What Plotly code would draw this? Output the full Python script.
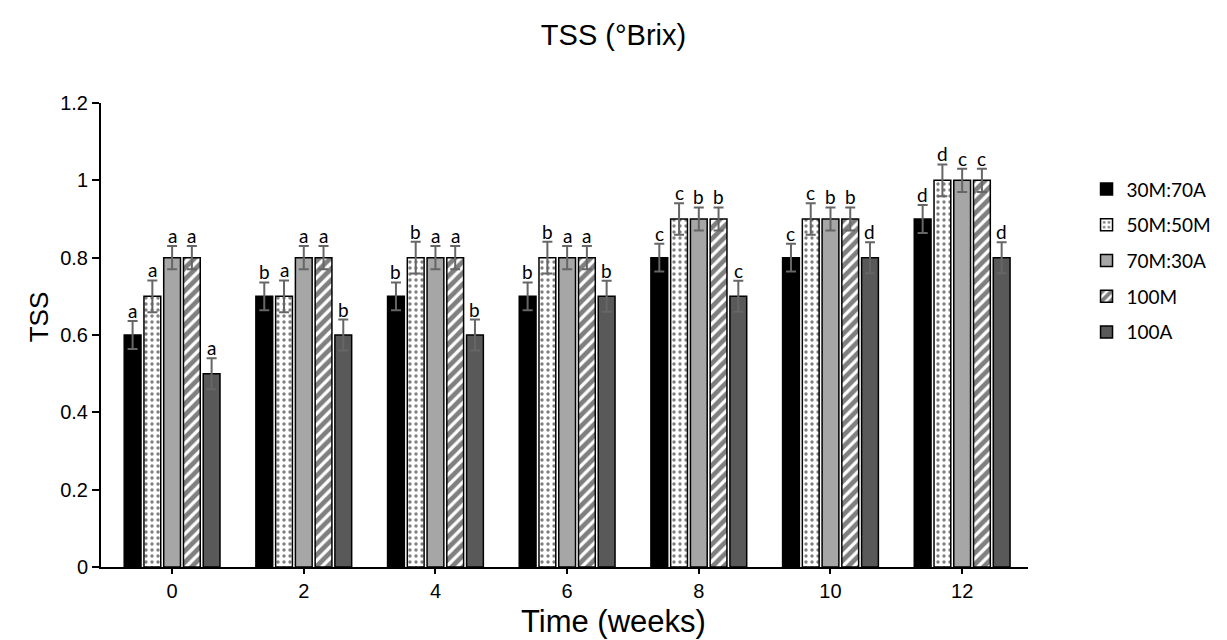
import plotly.graph_objects as go

weeks = ["0", "2", "4", "6", "8", "10", "12"]
series_names = ["30M:70A", "50M:50M", "70M:30A", "100M", "100A"]

tss_30M70A = [0.6, 0.7, 0.7, 0.7, 0.8, 0.8, 0.9]
tss_50M50M = [0.7, 0.7, 0.8, 0.8, 0.9, 0.9, 1.0]
tss_70M30A = [0.8, 0.8, 0.8, 0.8, 0.9, 0.9, 1.0]
tss_100M = [0.8, 0.8, 0.8, 0.8, 0.9, 0.9, 1.0]
tss_100A = [0.5, 0.6, 0.6, 0.7, 0.7, 0.8, 0.8]

err_30M70A = [0.036] * 7
err_50M50M = [0.041] * 7
err_70M30A = [0.03] * 7
err_100M = [0.03] * 7
err_100A = [0.04] * 7

letters_30M70A = ["a", "b", "b", "b", "c", "c", "d"]
letters_50M50M = ["a", "a", "b", "b", "c", "c", "d"]
letters_70M30A = ["a", "a", "a", "a", "b", "b", "c"]
letters_100M = ["a", "a", "a", "a", "b", "b", "c"]
letters_100A = ["a", "b", "b", "b", "c", "d", "d"]

values = [tss_30M70A, tss_50M50M, tss_70M30A, tss_100M, tss_100A]
errors = [err_30M70A, err_50M50M, err_70M30A, err_100M, err_100A]
letters = [letters_30M70A, letters_50M50M, letters_70M30A, letters_100M, letters_100A]

styles = [
    dict(color="#000000"),
    dict(color="#ffffff", pattern=dict(shape=".", fgcolor="#000000", bgcolor="#ffffff", size=6, solidity=0.25)),
    dict(color="#a6a6a6"),
    dict(color="#ffffff", pattern=dict(shape="/", fgcolor="#000000", bgcolor="#ffffff", size=8, solidity=0.6)),
    dict(color="#595959"),
]

bargap = 0.25
bargroupgap = 0.15
n = len(series_names)
slot = (1 - bargap) / n
xidx = list(range(len(weeks)))

fig = go.Figure()
for i, name in enumerate(series_names):
    st = styles[i]
    marker = dict(color=st["color"], line=dict(color="#000000", width=1.5))
    if "pattern" in st:
        marker["pattern"] = st["pattern"]
    fig.add_trace(go.Bar(
        x=xidx, y=values[i], name=name, marker=marker,
        error_y=dict(type="data", array=errors[i], color="#666666", thickness=2, width=5),
        legendgroup=name,
    ))
    off = -(1 - bargap) / 2 + slot * (i + 0.5)
    for j in xidx:
        fig.add_annotation(
            x=j + off, y=values[i][j] + errors[i][j], text=letters[i][j],
            showarrow=False, yanchor="bottom", yshift=-3,
            font=dict(family="Lato, Open Sans, sans-serif", size=19, color="#000000"),
        )

# axis titles (placed as in the reference, centred on the figure)
fig.add_annotation(text="Time (weeks)", xref="paper", yref="paper", x=0.553, y=-0.1185,
                   xanchor="center", yanchor="middle", showarrow=False,
                   font=dict(family="Liberation Sans, Arial, sans-serif", size=31, color="#000000"))
fig.add_annotation(text="TSS", xref="paper", yref="paper", x=-0.066, y=0.54, textangle=-90,
                   xanchor="center", yanchor="middle", showarrow=False,
                   font=dict(family="Liberation Sans, Arial, sans-serif", size=26, color="#000000"))

# small end tick at the right end of the x axis
fig.add_shape(type="line", xref="paper", yref="y", x0=1, x1=1, y0=0, y1=-5,
              ysizemode="pixel", yanchor=0, line=dict(color="#000000", width=2))

fig.update_layout(
    width=1227, height=640,
    paper_bgcolor="white", plot_bgcolor="white",
    margin=dict(l=101, r=198, t=103, b=73),
    barmode="group", bargap=bargap, bargroupgap=bargroupgap,
    title=dict(text="TSS (°Brix)", x=0.5, xref="container", y=0.945, yref="container",
               xanchor="center", yanchor="middle",
               font=dict(family="Liberation Sans, Arial, sans-serif", size=29, color="#000000")),
    font=dict(family="Liberation Sans, Arial, sans-serif", color="#000000"),
    legend=dict(x=1.062, y=0.66, xanchor="left", yanchor="middle",
                font=dict(family="Lato, Open Sans, sans-serif", size=19, color="#000000"),
                tracegroupgap=8, itemwidth=30),
    showlegend=True,
)
fig.update_xaxes(
    tickmode="array", tickvals=xidx, ticktext=weeks, range=[-0.54, 6.5],
    showline=True, linecolor="#000000", linewidth=2, ticks="outside", ticklen=5,
    tickwidth=2, tickcolor="#000000", showgrid=False, zeroline=False,
    tickfont=dict(size=20),
)
fig.update_yaxes(
    range=[0, 1.2], dtick=0.2, tick0=0,
    showline=True, linecolor="#000000", linewidth=2, ticks="outside", ticklen=7,
    tickwidth=2, tickcolor="#000000", showgrid=False, zeroline=False,
    tickfont=dict(size=20),
)

fig.write_html("out.html")
